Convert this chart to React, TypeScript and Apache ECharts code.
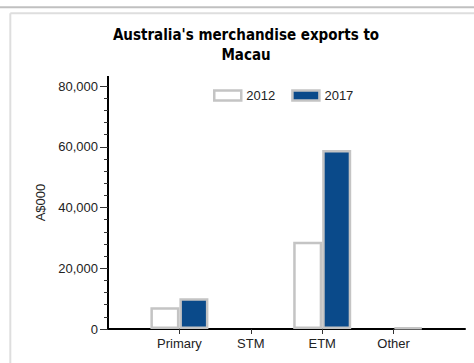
import React, { useEffect, useRef } from "react";
import * as echarts from "echarts";

const categories = ["Primary", "STM", "ETM", "Other"];
const values2012 = [7150, 0, 28700, 0];
const values2017 = [10100, 0, 58900, 500];
const seriesNames = ["2012", "2017"];
const yMin = 0;
const yMax = 80000;
const yInterval = 20000;

const FONT = "'Liberation Sans', Arial, sans-serif";
const BLUE = "#0a4a8a";
const BORDER = "#c4c4c4";

const pad = (arr: number[]) => [null, ...arr.map((v) => (v === 0 ? null : v)), null];

export default function App() {
  const ref = useRef<HTMLDivElement>(null);
  useEffect(() => {
    document.body.style.margin = "0";
    if (!ref.current) return;
    const chart = echarts.init(ref.current, null, { renderer: "svg" });
    const xData = ["", ...categories, ""];
    chart.setOption({
      animation: false,
      backgroundColor: "#fff",
      title: {
        text: "Australia's merchandise exports to\nMacau",
        left: 246,
        top: 25,
        padding: 0,
        textAlign: "center",
        textStyle: {
          fontFamily: "'DejaVu Sans Condensed', 'DejaVu Sans', sans-serif",
          fontWeight: "bold",
          fontSize: 15,
          lineHeight: 20,
          color: "#000",
        },
      },
      legend: {
        data: seriesNames,
        left: 213,
        top: 89,
        icon: "rect",
        itemWidth: 27,
        itemHeight: 10,
        itemGap: 16,
        padding: 0,
        itemStyle: { borderWidth: 2.5, borderColor: BORDER },
        textStyle: { fontFamily: FONT, fontSize: 13, color: "#222" },
      },
      grid: { left: 108, right: 9, top: 86, bottom: 34, containLabel: false },
      xAxis: {
        type: "category",
        data: xData,
        boundaryGap: false,
        axisLine: { show: true, lineStyle: { color: "#000", width: 2 } },
        axisTick: {
          show: true,
          interval: (i: number, v: string) => v !== "",
          length: 5,
          lineStyle: { color: "#333" },
        },
        axisLabel: { interval: 0, fontFamily: FONT, fontSize: 13, color: "#222", margin: 8 },
        splitLine: { show: false },
      },
      yAxis: {
        type: "value",
        min: yMin,
        max: yMax,
        interval: yInterval,
        name: "A$000",
        nameLocation: "middle",
        nameGap: 60,
        nameRotate: 90,
        nameTextStyle: { fontFamily: FONT, fontSize: 13, color: "#222", padding: [0, 0, 0, 10] },
        axisLine: { show: true, lineStyle: { color: "#000", width: 2 } },
        axisTick: { show: true, length: 8, lineStyle: { color: "#333" } },
        minorTick: { show: true, splitNumber: 5, length: 4, lineStyle: { color: "#333" } },
        splitLine: { show: false },
        axisLabel: {
          fontFamily: FONT,
          fontSize: 13,
          color: "#222",
          margin: 10,
          formatter: (v: number) => v.toLocaleString("en-US"),
        },
      },
      series: [
        {
          name: seriesNames[0],
          type: "bar",
          data: pad(values2012),
          barWidth: 29,
          barGap: "0%",
          itemStyle: { color: "#fff", borderColor: BORDER, borderWidth: 2.5 },
        },
        {
          name: seriesNames[1],
          type: "bar",
          data: pad(values2017),
          barWidth: 29,
          barGap: "0%",
          itemStyle: { color: BLUE, borderColor: BORDER, borderWidth: 2.5 },
        },
      ],
      graphic: [
        { type: "line", shape: { x1: 0, y1: 7.3, x2: 474, y2: 7.3 }, style: { stroke: "#c0c0c0", lineWidth: 2 }, silent: true },
        { type: "line", shape: { x1: 10.3, y1: 13.2, x2: 474, y2: 13.2 }, style: { stroke: "#dedede", lineWidth: 2 }, silent: true },
        { type: "line", shape: { x1: 10.3, y1: 13.2, x2: 10.3, y2: 363 }, style: { stroke: "#dedede", lineWidth: 2 }, silent: true },
        { type: "line", shape: { x1: 108, y1: 76, x2: 108, y2: 86 }, style: { stroke: "#000", lineWidth: 2 }, silent: true },
      ],
    });
    return () => chart.dispose();
  }, []);
  return <div ref={ref} style={{ width: 474, height: 363 }} />;
}
